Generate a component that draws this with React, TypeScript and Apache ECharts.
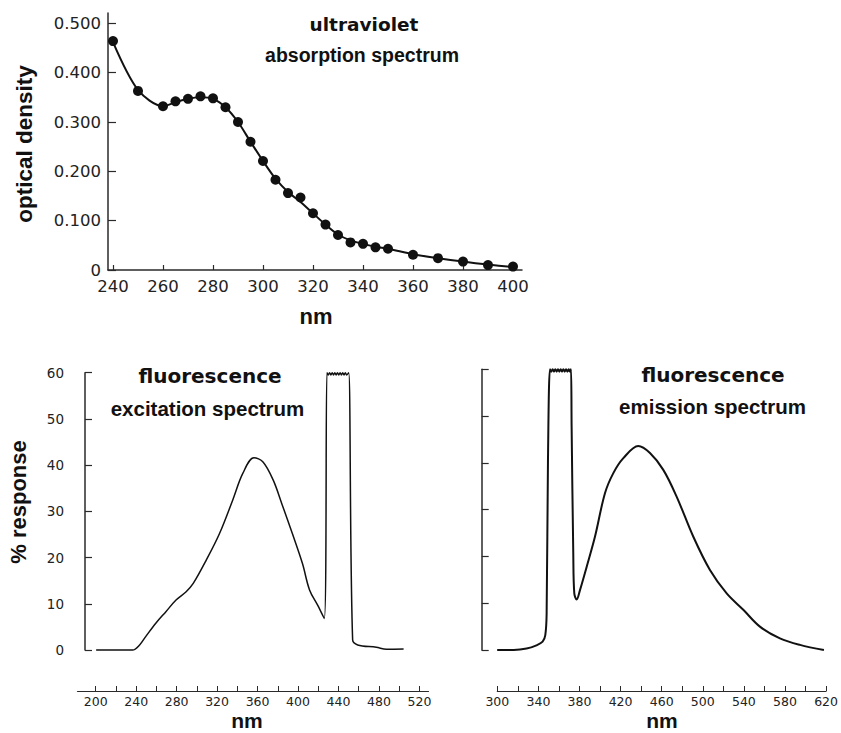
import React, { useEffect, useRef } from "react";
import * as echarts from "echarts";

// ---- Ultraviolet absorption spectrum (top) ----
const uvNm = [240, 250, 260, 265, 270, 275, 280, 285, 290, 295, 300, 305, 310, 315, 320, 325, 330, 335, 340, 345, 350, 360, 370, 380, 390, 400];
const uvPoints = [0.464, 0.363, 0.332, 0.342, 0.347, 0.352, 0.348, 0.330, 0.300, 0.260, 0.221, 0.183, 0.156, 0.147, 0.115, 0.092, 0.071, 0.056, 0.053, 0.046, 0.043, 0.031, 0.024, 0.017, 0.010, 0.007];
const uvCurve = [0.462, 0.365, 0.332, 0.340, 0.347, 0.350, 0.347, 0.330, 0.300, 0.260, 0.221, 0.185, 0.158, 0.138, 0.115, 0.092, 0.072, 0.060, 0.053, 0.047, 0.043, 0.032, 0.024, 0.017, 0.011, 0.006];
const uvXTicks = [240, 260, 280, 300, 320, 340, 360, 380, 400];
const uvYTicks = [0, 0.1, 0.2, 0.3, 0.4, 0.5];

// ---- Fluorescence excitation spectrum (bottom left) ----
const exNm = [201, 237, 244, 250, 260, 270, 280, 290, 297, 310, 323, 336, 346, 357, 366, 376, 385, 395, 405, 412, 420, 426.6,
  429.2, 430.5, 431.8, 433.1, 434.4, 435.7, 437, 438.3, 439.6, 440.9, 442.2, 443.5, 444.8, 446.1, 447.4, 448.7, 450.7,
  454.6, 459.6, 478, 488, 505];
const exResp = [0, 0, 1.1, 2.9, 5.8, 8.3, 10.8, 12.6, 14.4, 19.5, 25.2, 32.4, 38.2, 41.6, 40.7, 36.8, 31.4, 25.2, 18.7, 13.0, 9.7, 6.8,
  60, 59.5, 60, 59.5, 60, 59.5, 60, 59.5, 60, 59.5, 60, 59.5, 60, 59.5, 60, 59.5, 60,
  2.2, 1.1, 0.6, 0.15, 0.2];
const exTicks = [200, 220, 240, 260, 280, 300, 320, 340, 360, 380, 400, 420, 440, 460, 480, 500, 520];
const exLabels = [200, 240, 280, 320, 360, 400, 440, 480, 520];

// ---- Fluorescence emission spectrum (bottom right) ----
const emNm = [300, 316, 328.5, 338, 344, 346.6, 347.9, 349.2,
  351.1, 352.4, 353.7, 355, 356.3, 357.6, 358.9, 360.2, 361.5, 362.8, 364.1, 365.4, 366.7, 368, 369.3, 370.6, 371.5,
  372.1, 373.7, 374.7, 377, 380.2, 386.7, 394.7, 404.4, 412.5, 422.2, 436.7, 448, 460.9, 473.8, 490, 506.1, 522.3, 538.4, 554.5, 573.9, 593.3, 616.5];
const emResp = [0, 0, 0.3, 1.0, 1.8, 3.2, 7.8, 40.6,
  60, 59.5, 60, 59.5, 60, 59.5, 60, 59.5, 60, 59.5, 60, 59.5, 60, 59.5, 60, 59.5, 60,
  47.8, 20.7, 12.1, 10.8, 12.8, 17.8, 24.2, 33.5, 37.8, 41.0, 43.6, 42.1, 38.5, 32.8, 24.2, 17.1, 12.1, 8.6, 5.0, 2.5, 1.1, 0];
const emTicks = [300, 320, 340, 360, 380, 400, 420, 440, 460, 480, 500, 520, 540, 560, 580, 600, 620];
const emLabels = [300, 340, 380, 420, 460, 500, 540, 580, 620];

const INK = "#111";
const AXIS = "#2a2a2a";
const NUMFONT = "DejaVu Sans";
const BOLDFONT = "Liberation Sans";

export default function App() {
  const ref = useRef<HTMLDivElement>(null);
  useEffect(() => {
    if (!ref.current) return;
    const chart = echarts.init(ref.current, undefined, { renderer: "svg" });
    const axisLine = { show: true, lineStyle: { color: AXIS, width: 1.5 } };
    const hiddenY = (grid: number) => ({ type: "value", gridIndex: grid, show: false, min: 0, max: 1 });
    const text = (t: string, x: number, y: number, size: number, family: string, rot = 0) => ({
      type: "text",
      x,
      y,
      rotation: rot,
      style: {
        text: t,
        fill: INK,
        fontSize: size,
        fontFamily: family,
        fontWeight: "bold",
        align: "center",
        verticalAlign: "middle",
      },
    });
    const option: any = {
      animation: false,
      backgroundColor: "#fff",
      grid: [
        { left: 108, top: 13, width: 414, height: 257 },
        { left: 85, top: 372.7, width: 344.4, height: 277.3 },
        { left: 77.5, top: 681, width: 351, height: 10 },
        { left: 481.7, top: 369.3, width: 351, height: 280.7 },
        { left: 497.3, top: 681, width: 330.4, height: 10 },
      ],
      xAxis: [
        {
          type: "value", gridIndex: 0, min: 238, max: 403.6,
          axisLine,
          axisTick: { inside: true, length: 5, customValues: uvXTicks, lineStyle: { color: AXIS, width: 1.2 } },
          axisLabel: { customValues: uvXTicks, margin: 8, fontSize: 16.5, fontFamily: NUMFONT, color: "#222" },
          splitLine: { show: false },
        },
        { type: "value", gridIndex: 1, show: false, min: 190, max: 530.5 },
        {
          type: "value", gridIndex: 2, min: 182, max: 529,
          axisLine: { show: true, lineStyle: { color: AXIS, width: 1.2 } },
          axisTick: { inside: true, length: 5, customValues: exTicks, lineStyle: { color: AXIS, width: 1 } },
          axisLabel: { customValues: exLabels, margin: 4, fontSize: 12.5, fontFamily: NUMFONT, color: "#222" },
          splitLine: { show: false },
        },
        { type: "value", gridIndex: 3, show: false, min: 285, max: 625 },
        {
          type: "value", gridIndex: 4, min: 300, max: 620,
          axisLine: { show: true, lineStyle: { color: AXIS, width: 1.2 } },
          axisTick: { inside: true, length: 5, customValues: emTicks, lineStyle: { color: AXIS, width: 1 } },
          axisLabel: { customValues: emLabels, margin: 4, fontSize: 12.5, fontFamily: NUMFONT, color: "#222" },
          splitLine: { show: false },
        },
      ],
      yAxis: [
        {
          type: "value", gridIndex: 0, min: 0, max: 0.521,
          axisLine,
          axisTick: { inside: true, length: 8, customValues: uvYTicks, lineStyle: { color: AXIS, width: 1.2 } },
          axisLabel: {
            customValues: uvYTicks, margin: 7, fontSize: 16.5, fontFamily: NUMFONT, color: "#222",
            formatter: (v: number) => (v === 0 ? "0" : v.toFixed(3)),
          },
          splitLine: { show: false },
        },
        {
          type: "value", gridIndex: 1, min: 0, max: 60, interval: 10,
          axisLine: { show: true, lineStyle: { color: AXIS, width: 1.5 } },
          axisTick: { inside: true, length: 7, lineStyle: { color: AXIS, width: 1.2 } },
          axisLabel: { margin: 21, fontSize: 13.5, fontFamily: NUMFONT, color: "#222" },
          splitLine: { show: false },
        },
        hiddenY(2),
        {
          type: "value", gridIndex: 3, min: 0, max: 60, interval: 10,
          axisLine: { show: true, lineStyle: { color: AXIS, width: 1.5 } },
          axisTick: { inside: true, length: 7, lineStyle: { color: AXIS, width: 1.2 } },
          axisLabel: { show: false },
          splitLine: { show: false },
        },
        hiddenY(4),
      ],
      series: [
        {
          type: "line", xAxisIndex: 0, yAxisIndex: 0,
          data: uvNm.map((x, i) => [x, uvCurve[i]]),
          smooth: 0.3, showSymbol: false, clip: false,
          lineStyle: { color: INK, width: 2 },
        },
        {
          type: "scatter", xAxisIndex: 0, yAxisIndex: 0,
          data: uvNm.map((x, i) => [x, uvPoints[i]]),
          symbolSize: 10, itemStyle: { color: INK, opacity: 1 }, clip: false,
        },
        {
          type: "line", xAxisIndex: 1, yAxisIndex: 1,
          data: exNm.map((x, i) => [x, exResp[i]]),
          smooth: 0.35, showSymbol: false, clip: false,
          lineStyle: { color: INK, width: 1.5 },
        },
        {
          type: "line", xAxisIndex: 3, yAxisIndex: 3,
          data: emNm.map((x, i) => [x, emResp[i]]),
          smooth: 0.35, showSymbol: false, clip: false,
          lineStyle: { color: INK, width: 2 },
        },
      ],
      graphic: [
        text("ultraviolet", 364, 24, 18.5, "DejaVu Sans"),
        text("absorption spectrum", 362, 55, 19.5, BOLDFONT),
        text("optical density", 24, 144, 22.5, BOLDFONT, Math.PI / 2),
        text("nm", 316, 316, 22, BOLDFONT),
        text("fluorescence", 210, 376, 20, "DejaVu Sans"),
        text("excitation spectrum", 207.5, 408, 20.5, BOLDFONT),
        text("% response", 18, 502, 22, BOLDFONT, Math.PI / 2),
        text("nm", 247, 720, 21, BOLDFONT),
        text("fluorescence", 713, 375, 20, "DejaVu Sans"),
        text("emission spectrum", 712.5, 406, 20.5, BOLDFONT),
        text("nm", 662, 720, 21, BOLDFONT),
      ],
    };
    chart.setOption(option);
    return () => chart.dispose();
  }, []);
  return <div ref={ref} style={{ position: "fixed", left: 0, top: 0, width: 841, height: 733 }} />;
}
